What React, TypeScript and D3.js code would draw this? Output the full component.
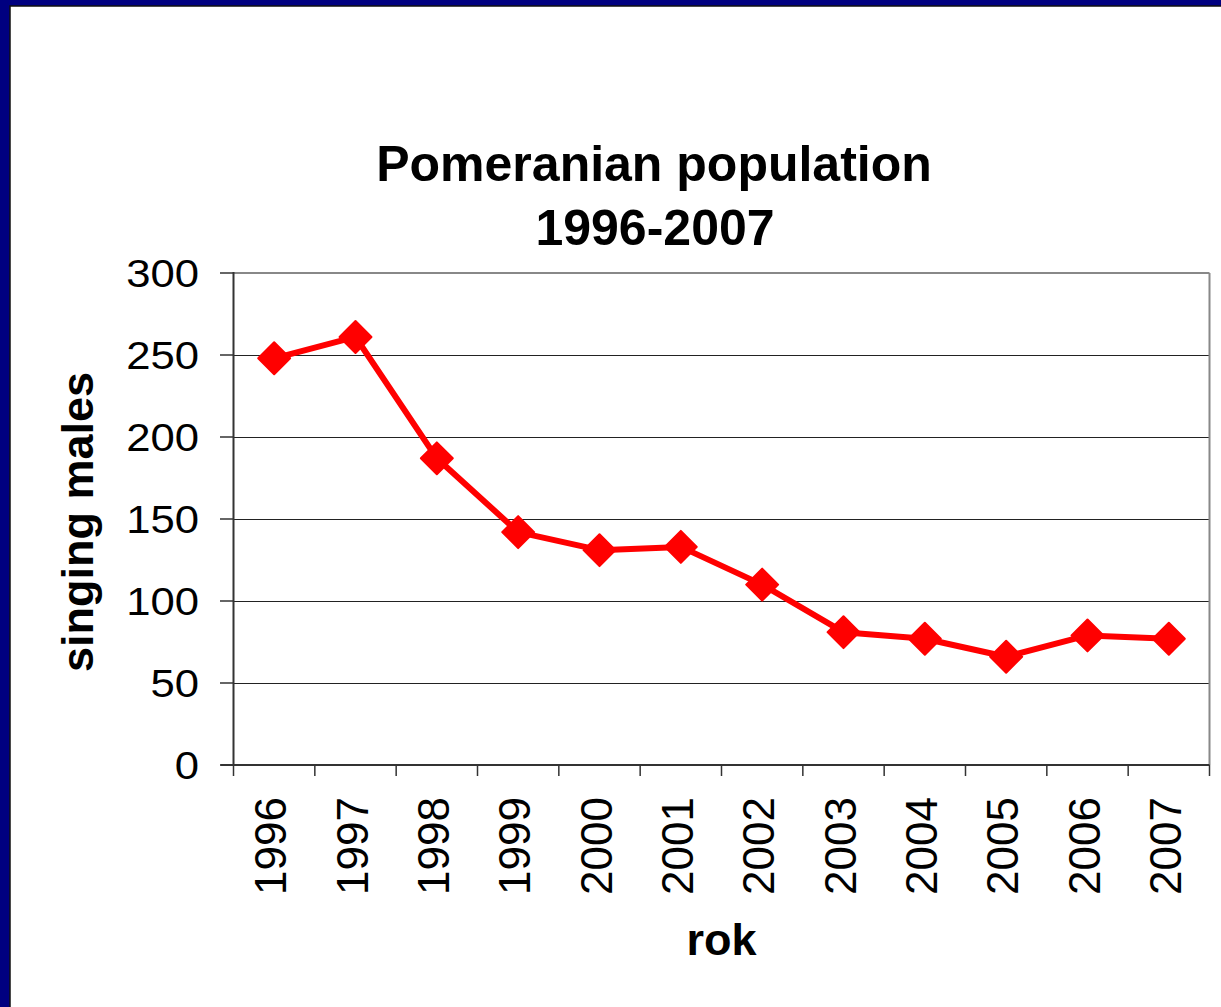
import { scaleLinear, scaleBand, line, symbol, symbolSquare } from 'd3'

const YEARS = ['1996', '1997', '1998', '1999', '2000', '2001', '2002', '2003', '2004', '2005', '2006', '2007']
const SINGING_MALES = [248, 261, 187, 142, 131, 133, 110, 81, 77, 66, 79, 77]
const Y_TICKS = [0, 50, 100, 150, 200, 250, 300]
const TITLE = ['Pomeranian population', '1996-2007']

const W = 1221
const H = 1007
const FONT = '"Liberation Sans", Arial, sans-serif'

export default function App() {
  const left = 233.5
  const right = 1209.5
  const top = 273
  const bottom = 765

  const xScale = scaleBand().domain(YEARS).range([left, right])
  const yScale = scaleLinear().domain([0, 300]).range([bottom, top])
  const cx = (d: string) => xScale(d)! + xScale.bandwidth() / 2
  const snap = (v: number) => Math.round(v) + 0.5

  const pts = YEARS.map((y, i) => [cx(y), yScale(SINGING_MALES[i])] as [number, number])
  const path = line()(pts)!
  const marker = symbol().type(symbolSquare).size(510)()!

  return (
    <svg width={W} height={H} style={{ position: 'absolute', left: 0, top: 0 }}>
      {/* slide frame */}
      <rect x={0} y={0} width={W} height={H} fill='#000080' />
      <rect x={10} y={6} width={W + 10} height={H + 10} fill='#fff' stroke='#111' strokeWidth={1.5} />

      {/* title */}
      <text x={654} y={181} textAnchor='middle' fontFamily={FONT} fontWeight='bold' fontSize={50}>
        {TITLE[0]}
      </text>
      <text x={655} y={245} textAnchor='middle' fontFamily={FONT} fontWeight='bold' fontSize={50}>
        {TITLE[1]}
      </text>

      {/* gridlines */}
      {Y_TICKS.filter((t) => t > 0 && t < 300).map((t) => (
        <line key={t} x1={left} x2={right} y1={snap(yScale(t))} y2={snap(yScale(t))} stroke='#222' strokeWidth={1} />
      ))}

      {/* plot frame top/right */}
      <line x1={left} x2={right} y1={top} y2={top} stroke='#888' strokeWidth={2} />
      <line x1={right} x2={right} y1={top} y2={bottom} stroke='#888' strokeWidth={2} />

      {/* y axis */}
      <line x1={left} x2={left} y1={top - 1} y2={bottom} stroke='#333' strokeWidth={2} />
      {Y_TICKS.map((t) => (
        <g key={t} transform={`translate(0, ${yScale(t)})`}>
          <line x1={220} x2={left} stroke='#333' strokeWidth={1.5} />
          <text
            transform='translate(199, 0) scale(1.12, 1)'
            dy='0.36em'
            textAnchor='end'
            fontFamily={FONT}
            fontSize={39}
          >
            {t}
          </text>
        </g>
      ))}

      {/* x axis */}
      <line x1={left - 13} x2={right} y1={bottom} y2={bottom} stroke='#333' strokeWidth={2} />
      {xScale.domain().concat(['end']).map((d, i) => {
        const x = i < YEARS.length ? xScale(d)! : right
        return <line key={d} x1={x} x2={x} y1={bottom} y2={bottom + 11} stroke='#333' strokeWidth={1.5} />
      })}
      {YEARS.map((d) => (
        <text
          key={d}
          transform={`translate(${cx(d)}, 797) rotate(-90)`}
          dy={12}
          textAnchor='end'
          fontFamily={FONT}
          fontSize={44}
        >
          {d}
        </text>
      ))}

      {/* axis titles */}
      <text
        transform={`translate(93, ${(top + bottom) / 2 + 3}) rotate(-90)`}
        textAnchor='middle'
        fontFamily={FONT}
        fontWeight='bold'
        fontSize={45}
      >
        singing males
      </text>
      <text x={(left + right) / 2} y={955} textAnchor='middle' fontFamily={FONT} fontWeight='bold' fontSize={45}>
        rok
      </text>

      {/* series */}
      <path d={path} fill='none' stroke='#ff0000' strokeWidth={6} strokeLinejoin='round' />
      {pts.map(([x, y], i) => (
        <path
          key={i}
          d={marker}
          transform={`translate(${x}, ${y}) rotate(45)`}
          fill='#ff0000'
          stroke='#ff0000'
          strokeWidth={2}
          strokeLinejoin='round'
        />
      ))}
    </svg>
  )
}
